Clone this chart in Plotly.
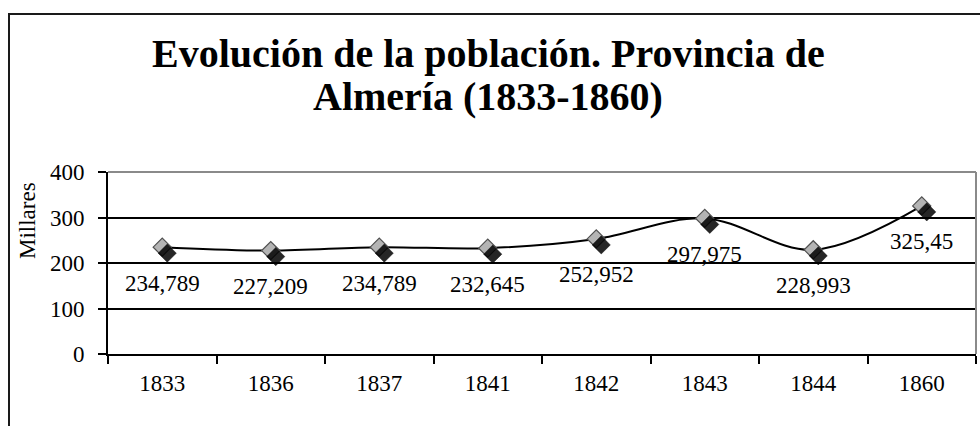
import plotly.graph_objects as go

# Población de la provincia de Almería (miles de habitantes)
years = ["1833", "1836", "1837", "1841", "1842", "1843", "1844", "1860"]
population = [234.789, 227.209, 234.789, 232.645, 252.952, 297.975, 228.993, 325.45]
y_ticks = [0, 100, 200, 300, 400]
title_lines = ["Evolución de la población. Provincia de", "Almería (1833-1860)"]

W, H = 980, 426
L, R, T, B = 108, 4, 172, 72
PW, PH = W - L - R, H - T - B

SERIF = "Liberation Serif, Times New Roman, serif"

def px_x(p):
    return (p - L) / PW

def px_y(p):
    return (H - B - p) / PH

fig = go.Figure()

# soft shadow under each marker, drawn on twin axes nudged a few pixels right/down
sx, sy = 5, 6
cat_w = PW / len(years)
y_per_px = 400 / PH
fig.add_trace(go.Scatter(
    x=years, y=population, mode="markers", xaxis="x2", yaxis="y2",
    marker=dict(symbol="diamond", size=14, color="rgba(0,0,0,0.85)",
                line=dict(width=1, color="rgba(0,0,0,0.4)")),
    hoverinfo="skip", showlegend=False,
))

fig.add_trace(go.Scatter(
    x=years, y=population, mode="lines+markers",
    line=dict(color="black", width=2, shape="spline", smoothing=1),
    marker=dict(symbol="diamond", size=14, color="#b4b4b4",
                line=dict(width=1.2, color="#505050")),
    showlegend=False,
))

# value labels below each point (category index keeps the year strings from being read as numbers)
for i, v in enumerate(population):
    fig.add_annotation(
        x=i, y=v, text=str(v).replace(".", ","), showarrow=False,
        yshift=-36, font=dict(family=SERIF, size=23, color="black"),
    )

# two-line title, one annotation per line for tighter leading
for line, ypx in zip(title_lines, [53, 97]):
    fig.add_annotation(
        xref="paper", yref="paper", x=px_x(488), y=px_y(ypx),
        text=line, showarrow=False, xanchor="center", yanchor="middle",
        font=dict(family=SERIF, size=40, color="black", weight="bold"),
    )

fig.add_annotation(
    xref="paper", yref="paper", x=px_x(27), y=px_y(221),
    text="Millares", textangle=-90, showarrow=False,
    xanchor="center", yanchor="middle",
    font=dict(family=SERIF, size=23, color="black"),
)

# outer chart frame and plot-area edges
fig.add_shape(type="rect", xref="paper", yref="paper",
              x0=px_x(9), x1=px_x(1010), y0=px_y(14), y1=px_y(460),
              line=dict(color="#1a1a1a", width=2))
fig.add_shape(type="line", xref="paper", yref="paper", x0=0, x1=1, y0=1, y1=1,
              line=dict(color="#8a8a8a", width=2))
fig.add_shape(type="line", xref="paper", yref="paper", x0=1, x1=1, y0=0, y1=1,
              line=dict(color="#8a8a8a", width=2))

fig.update_layout(
    width=W, height=H, margin=dict(l=L, r=R, t=T, b=B),
    paper_bgcolor="white", plot_bgcolor="white",
    font=dict(family=SERIF, color="black"),
    xaxis=dict(
        type="category", range=[-0.5, len(years) - 0.5],
        showgrid=False, zeroline=False, showline=True, linecolor="black", linewidth=2,
        ticks="outside", tickson="boundaries", ticklen=8, tickwidth=2, tickcolor="black",
        tickfont=dict(family=SERIF, size=23), ticklabelstandoff=7,
    ),
    yaxis=dict(
        range=[0, 400], tickvals=y_ticks, showgrid=True, gridcolor="black", gridwidth=2,
        zeroline=False, showline=True, linecolor="black", linewidth=2,
        ticks="outside", ticklen=8, tickwidth=2, tickcolor="black",
        tickfont=dict(family=SERIF, size=23), ticklabelstandoff=9,
    ),
    xaxis2=dict(
        type="category", overlaying="x", visible=False,
        range=[-0.5 - sx / cat_w, len(years) - 0.5 - sx / cat_w],
    ),
    yaxis2=dict(
        overlaying="y", visible=False,
        range=[sy * y_per_px, 400 + sy * y_per_px],
    ),
)

fig.write_html("out.html")
